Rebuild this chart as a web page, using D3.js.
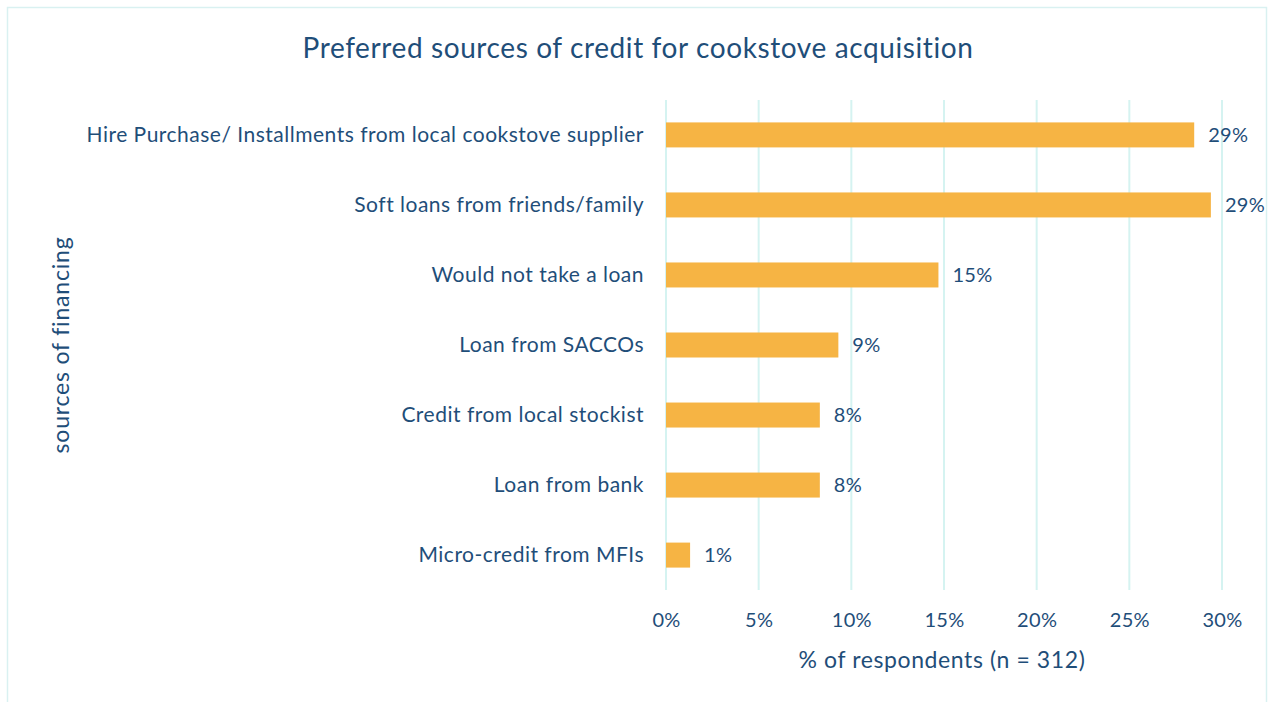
<!DOCTYPE html>
<html>
<head>
<meta charset="utf-8">
<script src="https://cdn.jsdelivr.net/npm/d3@7"></script>
<style>
  html, body { margin: 0; padding: 0; background: #ffffff; }
  svg { display: block; font-family: Lato, "Open Sans", sans-serif; }
</style>
</head>
<body>
<svg id="chart" width="1273" height="702"></svg>
<script>
// Preferred credit sources, share of respondents (%)
const categories = [
  "Hire Purchase/ Installments from local cookstove supplier",
  "Soft loans from friends/family",
  "Would not take a loan",
  "Loan from SACCOs",
  "Credit from local stockist",
  "Loan from bank",
  "Micro-credit from MFIs"
];
const values = [28.5, 29.4, 14.7, 9.3, 8.3, 8.3, 1.3];
const xTicks = [0, 5, 10, 15, 20, 25, 30];

const title = "Preferred sources of credit for cookstove acquisition";
const xTitle = "% of respondents (n = 312)";
const yTitle = "sources of financing";

const textColor = "#1f4e79";
const barColor = "#f6b444";
const gridColor = "#d5f3f1";

const svg = d3.select("#chart");
const W = 1273, H = 702;

// outer chart frame
svg.append("rect")
  .attr("x", 7.5).attr("y", 7.5)
  .attr("width", W - 14).attr("height", H - 6)
  .attr("fill", "#ffffff")
  .attr("stroke", "#d9f1f1")
  .attr("stroke-width", 1.5);

const plot = { left: 666, right: 1222, top: 100, bottom: 590 };

const x = d3.scaleLinear().domain([0, 30]).range([plot.left, plot.right]);
const y = d3.scaleBand().domain(categories)
  .range([plot.top, plot.bottom])
  .paddingInner(0.643).paddingOuter(0.32);

// vertical gridlines
svg.append("g")
  .selectAll("line")
  .data(xTicks)
  .join("line")
  .attr("x1", d => x(d)).attr("x2", d => x(d))
  .attr("y1", plot.top).attr("y2", plot.bottom)
  .attr("stroke", gridColor)
  .attr("stroke-width", 2);

// bars
svg.append("g")
  .selectAll("rect")
  .data(values)
  .join("rect")
  .attr("x", x(0))
  .attr("y", (d, i) => y(categories[i]))
  .attr("width", d => x(d) - x(0))
  .attr("height", y.bandwidth())
  .attr("fill", barColor);

// value labels
svg.append("g")
  .selectAll("text")
  .data(values)
  .join("text")
  .attr("x", d => x(d) + 14)
  .attr("y", (d, i) => y(categories[i]) + y.bandwidth() / 2)
  .attr("dy", "0.36em")
  .attr("fill", textColor)
  .attr("font-size", 20)
  .attr("letter-spacing", 0.3)
  .text(d => Math.round(d) + "%");

// category axis (labels only)
const yAxis = svg.append("g")
  .attr("transform", `translate(${plot.left},0)`)
  .call(d3.axisLeft(y).tickSize(0).tickPadding(22));
yAxis.select(".domain").remove();
yAxis.selectAll("text")
  .attr("fill", textColor)
  .attr("font-size", 21)
  .attr("letter-spacing", 0.5)
  .attr("font-family", "Lato, 'Open Sans', sans-serif");

// percentage axis (labels only)
const xAxis = svg.append("g")
  .attr("transform", `translate(0,${plot.bottom})`)
  .call(d3.axisBottom(x).tickValues(xTicks).tickFormat(d => d + "%").tickSize(0).tickPadding(23));
xAxis.select(".domain").remove();
xAxis.selectAll("text")
  .attr("fill", textColor)
  .attr("font-size", 20)
  .attr("letter-spacing", 0.3)
  .attr("font-family", "Lato, 'Open Sans', sans-serif");

// titles
svg.append("text")
  .attr("x", 638).attr("y", 58)
  .attr("text-anchor", "middle")
  .attr("fill", textColor)
  .attr("font-size", 28)
  .attr("letter-spacing", 0.6)
  .text(title);

svg.append("text")
  .attr("x", 942).attr("y", 668)
  .attr("text-anchor", "middle")
  .attr("fill", textColor)
  .attr("font-size", 23)
  .attr("letter-spacing", 0.6)
  .text(xTitle);

svg.append("text")
  .attr("transform", "translate(69,345) rotate(-90)")
  .attr("text-anchor", "middle")
  .attr("fill", textColor)
  .attr("font-size", 23)
  .attr("letter-spacing", 0.8)
  .text(yTitle);
</script>
</body>
</html>
